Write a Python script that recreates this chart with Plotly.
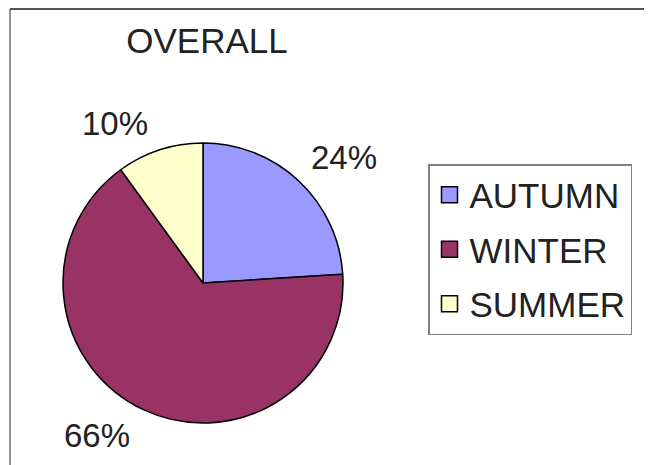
import math
import plotly.graph_objects as go

# ---- data ----
categories = ["AUTUMN", "WINTER", "SUMMER"]
values = [24, 66, 10]
colors = ["#9999FF", "#993366", "#FFFFCC"]
title_text = "OVERALL"

# ---- layout constants (page pixels; the page body has an 8px margin) ----
OFF = 8
W, H = 652 - OFF, 465 - OFF
CX, CY, R = 203 - OFF, 283 - OFF, 140
FONT = "Liberation Sans, Arial, sans-serif"


def px_x(x):
    return x / W


def px_y(y):
    return 1 - y / H


fig = go.Figure()

fig.add_trace(go.Pie(
    labels=categories,
    values=values,
    sort=False,
    direction="clockwise",
    rotation=0,
    marker=dict(colors=colors, line=dict(color="#000000", width=1.5)),
    textinfo="none",
    hoverinfo="label+percent",
    showlegend=False,
    domain=dict(x=[px_x(CX - R), px_x(CX + R)], y=[px_y(CY + R), px_y(CY - R)]),
))

# legend entries built from the same categories / colours
for cat, col in zip(categories, colors):
    fig.add_trace(go.Scatter(
        x=[None], y=[None], mode="markers", name=cat,
        legendgroup=cat,
        marker=dict(symbol="square", size=18, color=col, line=dict(color="#000000", width=1.5)),
        showlegend=True,
    ))

# percentage labels placed at each slice's mid angle (Excel-like anchoring)
total = sum(values)
cum = 0
annotations = []
for v in values:
    mid = (cum + v / 2) / total * 2 * math.pi
    cum += v
    s, c = math.sin(mid), math.cos(mid)
    rr = R + 15
    x = CX + rr * s + (0 if s > 0 else -5)
    y = CY - rr * c
    annotations.append(dict(
        x=px_x(x), y=px_y(y), xref="paper", yref="paper",
        text=f"{round(v / total * 100)}%",
        showarrow=False,
        xanchor="left" if s > 0 else "right",
        yanchor="bottom" if c > 0 else "top",
        yshift=-8 if c > 0 else 8,
        font=dict(family=FONT, size=33, color="#222222"),
    ))

fig.update_layout(
    width=W, height=H,
    margin=dict(l=0, r=0, t=0, b=0),
    paper_bgcolor="white",
    plot_bgcolor="white",
    xaxis=dict(visible=False),
    yaxis=dict(visible=False),
    title=dict(text=title_text, x=px_x(207 - OFF), xanchor="center", xref="paper",
               y=px_y(41 - OFF), yanchor="middle", yref="container",
               font=dict(family=FONT, size=35, color="#222222")),
    legend=dict(
        x=px_x(428 - OFF), y=px_y(164 - OFF), xanchor="left", yanchor="top",
        bordercolor="#808080", borderwidth=1.5, bgcolor="white",
        font=dict(family=FONT, size=35, color="#222222"),
        tracegroupgap=6,
        itemsizing="trace",
    ),
    annotations=annotations,
    shapes=[
        dict(type="line", xref="paper", yref="paper", x0=px_x(10 - OFF), x1=1,
             y0=px_y(9 - OFF), y1=px_y(9 - OFF),
             line=dict(color="#555555", width=2)),
        dict(type="line", xref="paper", yref="paper", x0=px_x(10 - OFF), x1=px_x(10 - OFF),
             y0=px_y(9 - OFF), y1=0,
             line=dict(color="#222222", width=1)),
    ],
)

fig.write_html("out.html")
